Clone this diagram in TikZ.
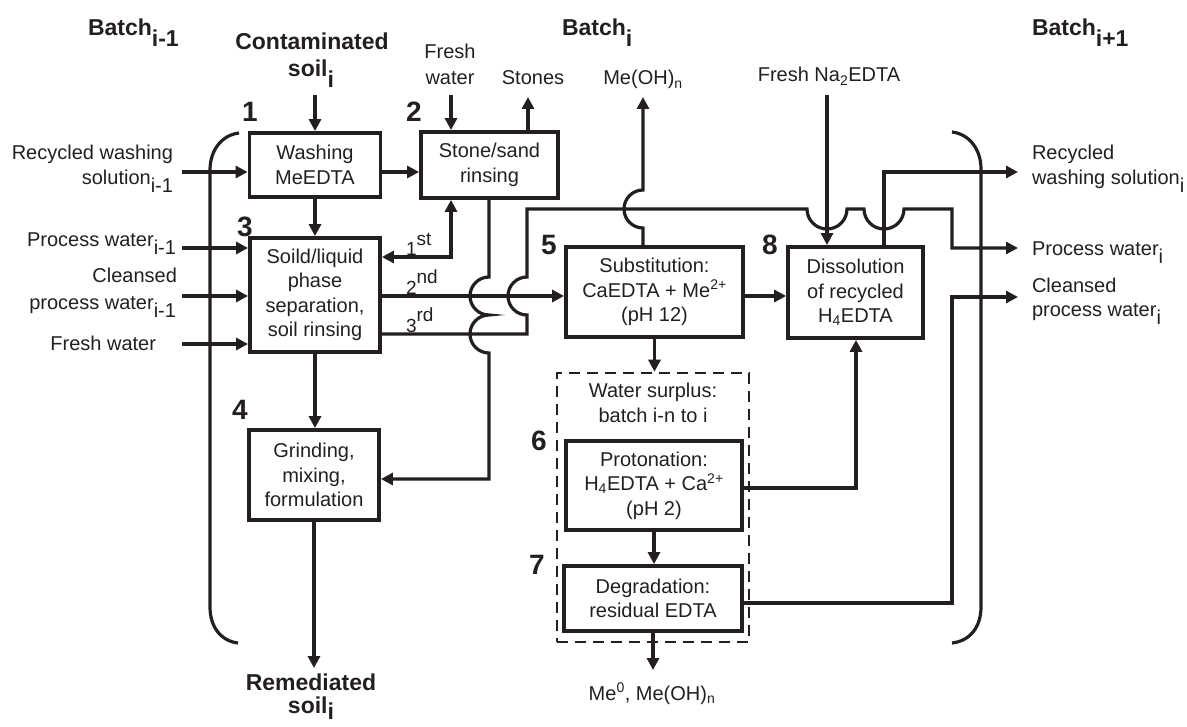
\documentclass[tikz,border=0pt]{standalone}
\usepackage{fontspec}
\setmainfont{Liberation Sans}
\usetikzlibrary{arrows.meta}
\definecolor{ink}{RGB}{35,31,32}
\newcommand{\idx}[1]{\raisebox{-0.4em}{#1}}
\newcommand{\bidx}[1]{\raisebox{-0.45em}{#1}}
\begin{document}
\begin{tikzpicture}[x=1pt,y=-1pt,
  every node/.style={text=ink, inner sep=0pt, outer sep=0pt},
  procbox/.style={draw=ink, line width=3.8pt, align=center, outer sep=1.9pt,
    font=\fontsize{20}{24.5}\selectfont},
  dashbox/.style={draw=ink, line width=2.6pt, dash pattern=on 11pt off 7pt, outer sep=1.3pt},
  lbl/.style={font=\fontsize{20}{24}\selectfont},
  ordlbl/.style={font=\fontsize{19}{22}\selectfont},
  boldlbl/.style={font=\fontsize{23}{27}\selectfont\bfseries},
  numlbl/.style={font=\fontsize{28}{30}\selectfont\bfseries},
  wire/.style={draw=ink, line width=3.2pt},
  wirearrow/.style={wire, -{Triangle[length=12pt,width=12pt]}},
  wiredbl/.style={wire, {Triangle[length=12pt,width=12pt]}-{Triangle[length=12pt,width=12pt]}},
  bracketline/.style={draw=ink, line width=3.2pt}]
\useasboundingbox (0,0) rectangle (1187,727);

% process boxes
\node[procbox, minimum width=131pt, minimum height=64pt] (b1) at (315,165) {Washing\\MeEDTA};
\node[procbox, minimum width=137pt, minimum height=66pt] (b2) at (489.5,165) {Stone/sand\\rinsing};
\node[procbox, minimum width=130pt, minimum height=114pt] (b3) at (315,295) {Soild/liquid\\phase\\separation,\\soil rinsing};
\node[procbox, minimum width=130pt, minimum height=90pt] (b4) at (314,475) {Grinding,\\mixing,\\formulation};
\node[procbox, minimum width=177pt, minimum height=90pt] (b5) at (654.5,292) {Substitution:\\CaEDTA + Me\textsuperscript{2+}\\(pH 12)};
\node[procbox, minimum width=135pt, minimum height=91pt] (b8) at (855.5,292.5) {Dissolution\\of recycled\\H\textsubscript{4}EDTA};
\node[dashbox, minimum width=192pt, minimum height=269pt] (dsh) at (653,507.5) {};
\node[procbox, minimum width=176pt, minimum height=89pt] (b6) at (654,485.5) {Protonation:\\H\textsubscript{4}EDTA + Ca\textsuperscript{2+}\\(pH 2)};
\node[procbox, minimum width=178pt, minimum height=65pt] (b7) at (653,598.5) {Degradation:\\residual EDTA};

% step numbers
\node[numlbl, anchor=base] (n1) at (250,122) {1};
\node[numlbl, anchor=base] (n2) at (414,122) {2};
\node[numlbl, anchor=base] (n3) at (245,237) {3};
\node[numlbl, anchor=base] (n4) at (240,420) {4};
\node[numlbl, anchor=base] (n5) at (549,255) {5};
\node[numlbl, anchor=base] (n8) at (770,255) {8};
\node[numlbl, anchor=base] (n6) at (539,450) {6};
\node[numlbl, anchor=base] (n7) at (537,574) {7};

% batch headers
\node[boldlbl, anchor=base west] (bt1) at (88,36) {Batch\bidx{i-1}};
\node[boldlbl, anchor=base west] (bt2) at (562,36) {Batch\bidx{i}};
\node[boldlbl, anchor=base west] (bt3) at (1032,36) {Batch\bidx{i+1}};

% top labels
\node[boldlbl, anchor=base] (tCS1) at (312,50) {Contaminated};
\node[boldlbl, anchor=base] (tCS2) at (311,77) {soil\bidx{i}};
\node[lbl, anchor=base] (tFr1) at (450,59) {Fresh};
\node[lbl, anchor=base] (tFr2) at (450,85) {water};
\node[lbl, anchor=base] (tSt) at (533,85) {Stones};
\node[lbl, anchor=base] (tMe) at (643,85) {Me(OH)\textsubscript{n}};
\node[lbl, anchor=base] (tNa) at (829,82) {Fresh Na\textsubscript{2}EDTA};

% left labels
\node[lbl, anchor=base east] (tRW1) at (173,160) {Recycled washing};
\node[lbl, anchor=base east] (tRW2) at (173,185) {solution\idx{i-1}};
\node[lbl, anchor=base east] (tPW) at (176,247) {Process water\idx{i-1}};
\node[lbl, anchor=base east] (tCW1) at (177,283) {Cleansed};
\node[lbl, anchor=base east] (tCW2) at (176,310) {process water\idx{i-1}};
\node[lbl, anchor=base east] (tFW) at (156,351) {Fresh water};

% right labels
\node[lbl, anchor=base west] (tR1) at (1032,160) {Recycled};
\node[lbl, anchor=base west] (tR2) at (1032,185) {washing solution\idx{i}};
\node[lbl, anchor=base west] (tR3) at (1032,256) {Process water\idx{i}};
\node[lbl, anchor=base west] (tR4) at (1032,293) {Cleansed};
\node[lbl, anchor=base west] (tR5) at (1032,317) {process water\idx{i}};

% bottom labels
\node[boldlbl, anchor=base] (tRS1) at (311,690) {Remediated};
\node[boldlbl, anchor=base] (tRS2) at (311,713) {soil\raisebox{-0.28em}{i}};
\node[lbl, anchor=base] (tMe0) at (652,700) {Me\textsuperscript{0}, Me(OH)\textsubscript{n}};

% dashed box text
\node[lbl, anchor=base] (tWS1) at (653,398) {Water surplus:};
\node[lbl, anchor=base] (tWS2) at (653,423) {batch i-n to i};

% ordinal labels
\node[ordlbl, anchor=base west] (o1) at (406,256) {1\raisebox{10pt}{st}};
\node[ordlbl, anchor=base west] (o2) at (406,295) {2\raisebox{11pt}{nd}};
\node[ordlbl, anchor=base west] (o3) at (406,333) {3\raisebox{11pt}{rd}};

% brackets
\draw[bracketline] (239,133) .. controls (222,135) and (210,150) .. (210,170) -- (210,607) .. controls (210,627) and (221,641) .. (238,643);
\draw[bracketline] (952,132) .. controls (969,134) and (981,149) .. (981,169) -- (981,607) .. controls (981,627) and (970,641) .. (952,643);

% coordinates
\coordinate (inRW) at (182,172);
\coordinate (inPW) at (182,248);
\coordinate (inCW) at (182,296);
\coordinate (inFW) at (182,344);
\coordinate (inSoil) at (315,95);
\coordinate (outSoil) at (314,668);
\coordinate (inFW2) at (451,95);
\coordinate (outSt) at (528,97);
\coordinate (k1) at (451,257);
\coordinate (k2) at (0,296);
\coordinate (k3) at (527,334);
\coordinate (k4) at (489,479);
\coordinate (kMe) at (643,97);
\coordinate (inNa) at (827,95);
\coordinate (k8) at (884,172);
\coordinate (outRW) at (1018,172);
\coordinate (outPW) at (1018,248);
\coordinate (k6) at (856,488);
\coordinate (k7) at (952,603);
\coordinate (outCW) at (1018,297);
\coordinate (outMe) at (653,670);

% left inputs
\draw[wirearrow] (inRW) -- (inRW -| b1.west);
\draw[wirearrow] (inPW) -- (inPW -| b3.west);
\draw[wirearrow] (inCW) -- (inCW -| b3.west);
\draw[wirearrow] (inFW) -- (inFW -| b3.west);

% soil line
\draw[wirearrow] (inSoil) -- (inSoil |- b1.north);
\draw[wirearrow] (b1.south) -- (b3.north);
\draw[wirearrow] (b3.south) -- (b3.south |- b4.north);
\draw[wirearrow] (b4.south) -- (outSoil);

% stone/sand
\draw[wirearrow] (b1.east |- inRW) -- (b2.west |- inRW);
\draw[wirearrow] (inFW2) -- (inFW2 |- b2.north);
\draw[wirearrow] (outSt |- b2.north) -- (outSt);
\draw[wiredbl] (b3.east |- k1) -- (k1) -- (k1 |- b2.south);

% 2nd rinsing
\draw[wirearrow] (b3.east |- k2) -- (b5.west |- k2);
\draw[wirearrow] (b5.east |- k2) -- (b8.west |- k2);

% sand to grinding (with hops)
\draw[wirearrow] (b2.south -| k4) -- (489,277) arc[start angle=90, end angle=270, radius=19pt]
  arc[start angle=90, end angle=270, radius=19pt] -- (k4) -- (b4.east |- k4);

% 3rd rinsing -> process water
\draw[wirearrow] (b3.east |- k3) -- (k3) -- (527,315) arc[start angle=270, end angle=90, radius=19pt]
  -- (527,209) -- (807,209) arc[start angle=180, end angle=360, radius=20pt]
  -- (864,209) arc[start angle=180, end angle=360, radius=20pt]
  -- (952,209) -- (952,248) -- (outPW);

% Me(OH)n
\draw[wirearrow] (b5.north -| kMe) -- (643,228) arc[start angle=270, end angle=90, radius=19pt] -- (kMe);

% Fresh Na2EDTA
\draw[wirearrow] (inNa) -- (inNa |- b8.north);
% recycled washing solution
\draw[wirearrow] (k8 |- b8.north) -- (k8) -- (outRW);

% lower part
\draw[wirearrow] (b5.south) -- (b5.south |- dsh.north);
\draw[wirearrow] (b6.south) -- (b6.south |- b7.north);
\draw[wirearrow] (b7.south) -- (b7.south |- outMe);
\draw[wirearrow] (b6.east |- k6) -- (k6) -- (k6 |- b8.south);
\draw[wirearrow] (b7.east |- k7) -- (k7) -- (k7 |- outCW) -- (outCW);
\end{tikzpicture}
\end{document}
